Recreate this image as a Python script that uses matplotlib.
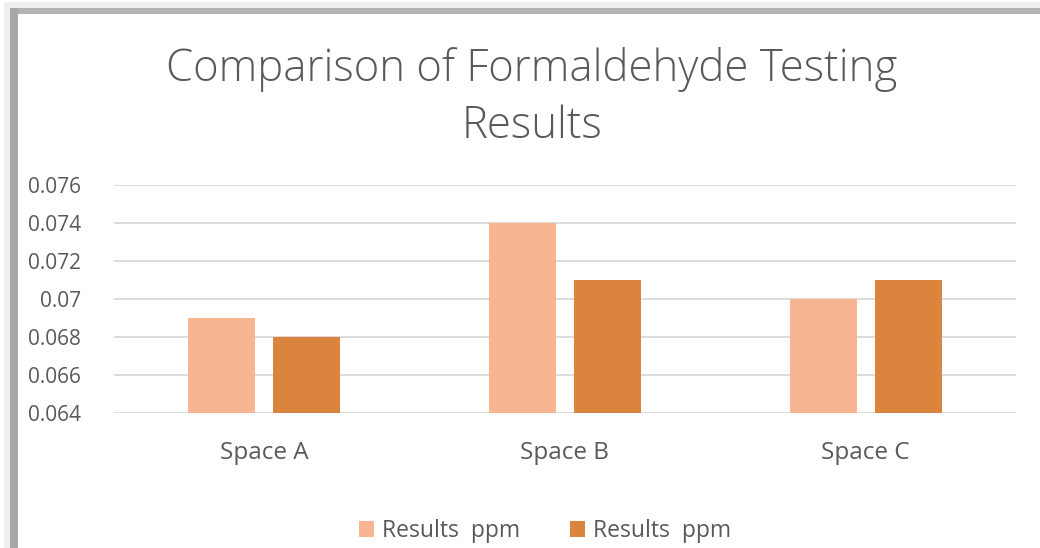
import matplotlib
matplotlib.use("Agg")
import matplotlib.pyplot as plt
from matplotlib.patches import Rectangle
import numpy as np

categories = ["Space A", "Space B", "Space C"]
series1 = [0.069, 0.074, 0.070]
series2 = [0.068, 0.071, 0.071]
labels = ["Results  ppm", "Results  ppm"]
yticks = [0.064, 0.066, 0.068, 0.07, 0.072, 0.074, 0.076]
ytick_labels = ["0.064", "0.066", "0.068", "0.07", "0.072", "0.074", "0.076"]

plt.rcParams['font.family'] = ['Open Sans', 'DejaVu Sans']

W, H = 1040, 548
fig = plt.figure(figsize=(W/100, H/100), dpi=100)
fig.patch.set_facecolor("white")

# frame / shadow
def px(x, y, w, h):
    return (x/W, 1 - (y+h)/H, w/W, h/H)

for (x, y, w, h, c) in [
    (4, 2, 1040, 6, "#efefef"), (4, 2, 6, 548, "#efefef"),
    (10, 8, 1040, 6, "#b3b3b3"), (10, 8, 8, 548, "#a8a8a8"),
]:
    l, b, ww, hh = px(x, y, w, h)
    fig.patches.append(Rectangle((l, b), ww, hh, transform=fig.transFigure,
                                 facecolor=c, edgecolor="none", zorder=0))

ax = fig.add_axes([114/W, 1-413/H, (1016-114)/W, (413-185)/H])
x = np.arange(len(categories))
bw = 0.223
gap = 0.06
ax.bar(x - (bw+gap)/2, series1, bw, bottom=0, color="#F8B591", label=labels[0], zorder=3)
ax.bar(x + (bw+gap)/2, series2, bw, bottom=0, color="#DA843E", label=labels[1], zorder=3)
ax.set_ylim(0.064, 0.076)
ax.set_xlim(-0.5, 2.5)
ax.set_yticks(yticks)
ax.set_yticklabels(ytick_labels)
ax.set_xticks(x)
ax.set_xticklabels(categories)
ax.grid(axis="y", color="#D9D9D9", linewidth=1.3, zorder=0)
for s in ax.spines.values():
    s.set_visible(False)
ax.tick_params(axis="both", length=0, colors="#595959")
ax.tick_params(axis="y", labelsize=15, pad=24)
ax.tick_params(axis="x", labelsize=17.5, pad=20)
ax.set_facecolor("none")

fig.text(532/W, 1-70/H, "Comparison of Formaldehyde Testing", ha="center", va="center",
         fontsize=31.5, color="#595959", fontweight="light")
fig.text(532/W, 1-127/H, "Results", ha="center", va="center",
         fontsize=31.5, color="#595959", fontweight="light")

leg = fig.legend(loc="center", bbox_to_anchor=(545/W, 1-531/H), ncol=2, frameon=False,
                 fontsize=16.5, labelcolor="#595959", handlelength=0.65, handleheight=0.65,
                 columnspacing=2.2, handletextpad=0.35)

fig.savefig("out.png", dpi=100)
